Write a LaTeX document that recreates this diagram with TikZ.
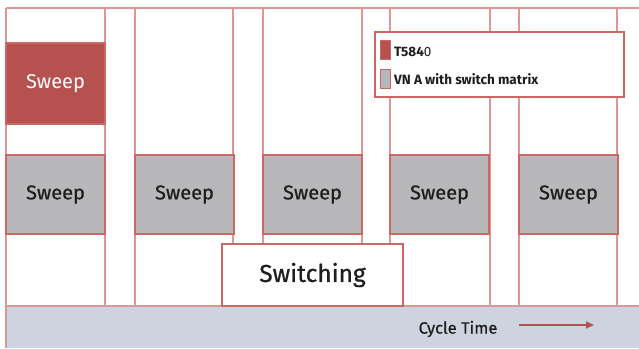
\documentclass[tikz,border=0pt]{standalone}
\usepackage{fontspec}
\setmainfont{Fira Sans}
\newfontfamily\medfont{Fira Sans}[FakeBold=0.7]
\usetikzlibrary{arrows.meta}
\definecolor{redfill}{HTML}{B5524F}
\definecolor{gridred}{HTML}{DC9894}
\definecolor{boxred}{HTML}{CC6763}
\definecolor{sweepgray}{HTML}{B8B8BA}
\definecolor{bandblue}{HTML}{CED4DF}
\definecolor{txt}{HTML}{1E1E1E}
\tikzset{
  gridline/.style={draw=gridred, line width=1.1pt},
  boxbase/.style={draw=boxred, line width=1.2pt, inner sep=0pt, outer sep=0pt, anchor=north west},
  graysweep/.style={boxbase, fill=sweepgray, minimum width=99pt, minimum height=79pt, font=\medfont\fontsize{20}{22}\selectfont, text=txt},
  redsweep/.style={boxbase, fill=redfill, minimum width=99pt, minimum height=81pt, font=\fontsize{20}{22}\selectfont, text=white},
  switchbox/.style={boxbase, fill=white, minimum width=181pt, minimum height=62pt, font=\medfont\fontsize{24.5}{26}\selectfont, text=txt},
  legendbox/.style={boxbase, fill=white, minimum width=249pt, minimum height=65pt},
  swatch/.style={draw=boxred, line width=0.8pt, inner sep=0pt, outer sep=0pt, minimum width=10pt, minimum height=19pt, anchor=north west},
  legtext/.style={anchor=west, inner sep=0pt, font=\fontsize{13.5}{15}\selectfont\bfseries, text=txt},
}
\begin{document}
\begin{tikzpicture}[x=1pt,y=-1pt]
\useasboundingbox (0,0) rectangle (639,348);
% bottom band
\fill[bandblue] (6,306) rectangle (639,348);
% grid lines
\draw[gridline] (6,8) -- (639,8);
\draw[gridline] (6,8) -- (6,348);
\draw[gridline] (6,306) -- (639,306);
\foreach \x in {105,135,233,263,362,390,490,519,617}
  \draw[gridline] (\x,8) -- (\x,306);
% red sweep
\node[redsweep] (r1) at (6,43) {\raisebox{-2pt}{Sweep}};
% gray sweeps
\node[graysweep] (g1) at (6,155) {Sweep};
\node[graysweep] (g2) at (135,155) {Sweep};
\node[graysweep] (g3) at (263,155) {Sweep};
\node[graysweep] (g4) at (390,155) {Sweep};
\node[graysweep] (g5) at (519,155) {Sweep};
% switching
\node[switchbox] (sw) at (222,244) {Switching};
% legend
\node[legendbox] (leg) at (375,32) {};
\node[swatch, fill=redfill] (sr) at (380,40) {};
\node[swatch, fill=sweepgray] (sg) at (380,69) {};
\node[legtext] (lt1) at (394,52) {T584{\mdseries 0}};
\node[legtext] (lt2) at (394,79) {VN A with switch matrix};
% cycle time
\node[font=\medfont\fontsize{16.5}{18}\selectfont, text=txt, inner sep=0pt] (ct) at (458,329) {Cycle Time};
\coordinate (a1) at (519,325);
\coordinate (a2) at (594,325);
\draw[draw=redfill, line width=1.8pt, -{Triangle[length=8pt,width=7pt]}] (a1) -- (a2);
\end{tikzpicture}
\end{document}
